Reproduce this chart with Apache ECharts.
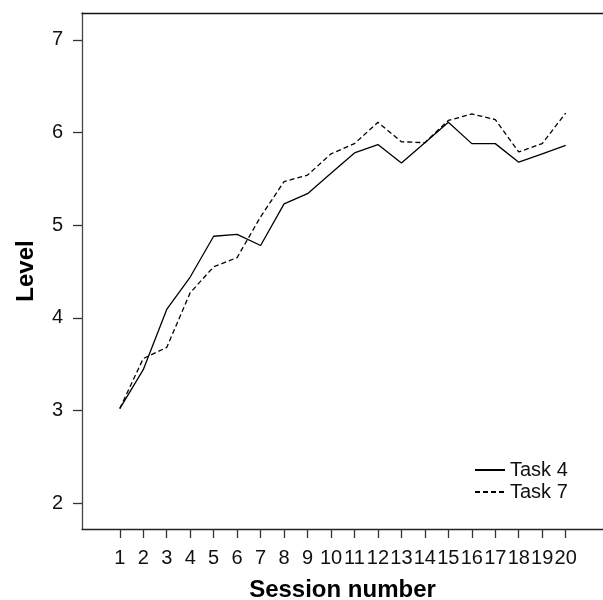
<!DOCTYPE html>
<html>
<head>
<meta charset="utf-8">
<script src="https://cdn.jsdelivr.net/npm/echarts@6/dist/echarts.min.js"></script>
<style>
    html, body { margin: 0; padding: 0; background: #fff; }
    #main { width: 603px; height: 600px; }
</style>
</head>
<body>
<div id="main"></div>
<script>
// session numbers and levels
const sessions = [1, 2, 3, 4, 5, 6, 7, 8, 9, 10, 11, 12, 13, 14, 15, 16, 17, 18, 19, 20];
const task4 = [3.02, 3.44, 4.09, 4.44, 4.88, 4.90, 4.78, 5.23, 5.34, 5.56, 5.78, 5.87, 5.67, 5.89, 6.11, 5.88, 5.88, 5.68, 5.77, 5.86];
const task7 = [3.02, 3.56, 3.68, 4.27, 4.55, 4.65, 5.09, 5.47, 5.54, 5.77, 5.88, 6.11, 5.90, 5.89, 6.13, 6.20, 6.14, 5.79, 5.88, 6.21];
const yTicks = [2, 3, 4, 5, 6, 7];

const font = '"Liberation Sans", Arial, Helvetica, sans-serif';

function pairs(ys) {
    let out = [];
    for (let i = 0; i < sessions.length; i++) {
        out.push([sessions[i], ys[i]]);
    }
    return out;
}

const chart = echarts.init(document.getElementById('main'));

const option = {
    animation: false,
    backgroundColor: '#fff',
    grid: { left: 82, top: 13, right: 0, bottom: 71, outerBoundsMode: 'none' },
    legend: {
        left: 469,
        top: 454,
        orient: 'vertical',
        itemWidth: 30,
        itemHeight: 14,
        itemGap: 0,
        itemStyle: { opacity: 0 },
        textStyle: { fontFamily: font, fontSize: 20, color: '#111', lineHeight: 22 },
        data: ['Task 4', 'Task 7']
    },
    xAxis: [
        {
            type: 'value',
            min: -0.61,
            max: 21.59,
            name: 'Session number',
            nameLocation: 'middle',
            nameGap: 49,
            nameTextStyle: { fontFamily: font, fontSize: 24, fontWeight: 'bold', color: '#000' },
            splitLine: { show: false },
            axisLine: { show: true, onZero: false, lineStyle: { color: '#222', width: 1.3 } },
            axisTick: { show: true, inside: false, length: 9, customValues: sessions, lineStyle: { color: '#333', width: 1.3 } },
            axisLabel: { fontFamily: font, fontSize: 20, color: '#111', margin: 19, customValues: sessions }
        },
        {
            // top frame line
            type: 'value',
            position: 'top',
            min: -0.61,
            max: 21.59,
            splitLine: { show: false },
            axisLine: { show: true, onZero: false, lineStyle: { color: '#111', width: 1.3 } },
            axisTick: { show: false },
            axisLabel: { show: false }
        }
    ],
    yAxis: {
        type: 'value',
        min: 1.72,
        max: 7.29,
        name: 'Level',
        nameLocation: 'middle',
        nameGap: 44,
        nameTextStyle: { fontFamily: font, fontSize: 24, fontWeight: 'bold', color: '#000' },
        splitLine: { show: false },
        axisLine: { show: true, onZero: false, lineStyle: { color: '#444', width: 1.3 } },
        axisTick: { show: true, inside: false, length: 9, customValues: yTicks, lineStyle: { color: '#333', width: 1.3 } },
        axisLabel: { fontFamily: font, fontSize: 20, color: '#111', margin: 19, customValues: yTicks }
    },
    series: [
        {
            name: 'Task 4',
            type: 'line',
            symbol: 'none',
            data: pairs(task4),
            lineStyle: { color: '#000', width: 1.3, type: 'solid' },
            itemStyle: { color: '#000' }
        },
        {
            name: 'Task 7',
            type: 'line',
            symbol: 'none',
            data: pairs(task7),
            lineStyle: { color: '#000', width: 1.3, type: [5, 3] },
            itemStyle: { color: '#000' }
        }
    ]
};

chart.setOption(option);
</script>
</body>
</html>
